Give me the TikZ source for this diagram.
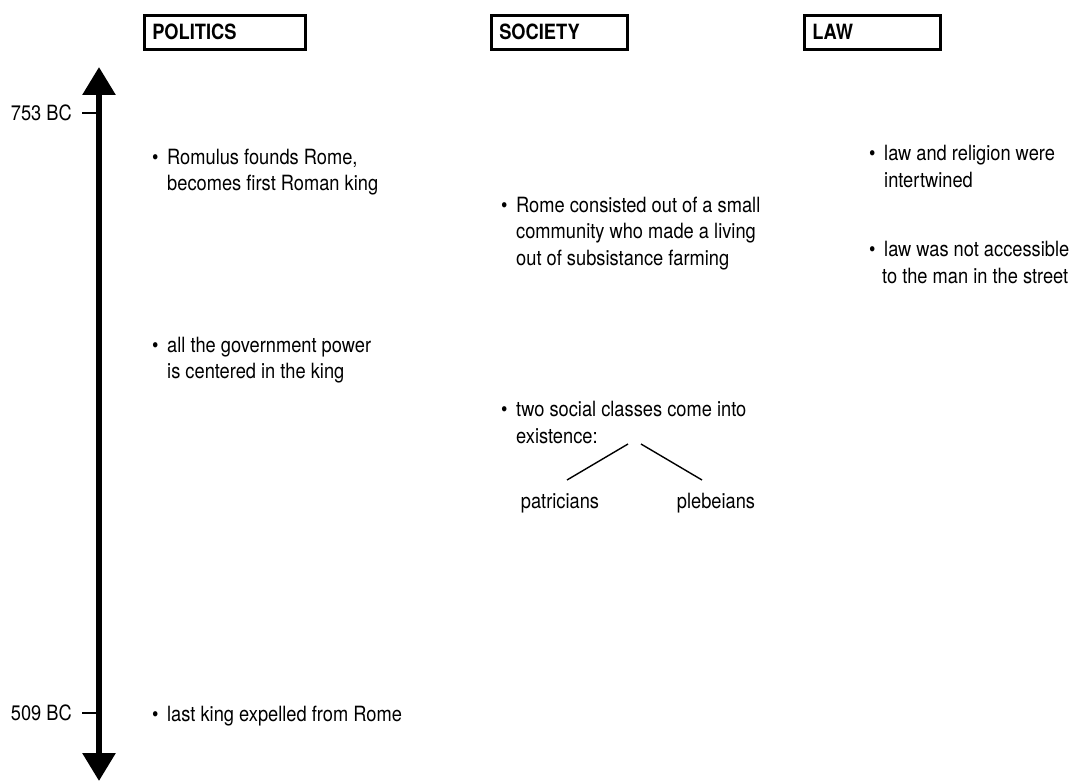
\documentclass[tikz,border=0pt]{standalone}
\usepackage{fontspec}
\setmainfont[FakeStretch=0.87]{TeX Gyre Heros}
\usetikzlibrary{arrows.meta}
\begin{document}
\begin{tikzpicture}[x=1pt,y=-1pt,
  every node/.style={inner sep=0pt, font=\fontsize{21}{26.5}\selectfont},
  header/.style={draw, line width=2.6pt, anchor=north west, align=left,
    minimum height=34pt, inner xsep=8pt, font=\fontsize{21}{26.5}\selectfont\bfseries},
  % multi-line items are placed by the baseline of their last line
  item/.style={anchor=base west, align=left},
  datelabel/.style={anchor=east},
  tick/.style={line width=2pt},
  timeline/.style={line width=6pt,
    {Triangle[width=32pt,length=28pt]}-{Triangle[width=32pt,length=28pt]}},
  fork/.style={line width=1.4pt}
]
\useasboundingbox (0,0) rectangle (1084,781);

% column headers
\node[header, text width=145pt] (politics) at (143,14) {POLITICS};
\node[header, text width=120pt] (society)  at (490,14) {SOCIETY};
\node[header, text width=120pt] (law)      at (803,14) {LAW};

% time axis
\coordinate (axtop) at (99,67);
\coordinate (axbot) at (99,781);
\draw[timeline] (axbot) -- (axtop);

\node[datelabel] (d753) at (72,113) {753 BC};
\coordinate (a753) at (99,113);
\draw[tick] ([xshift=10pt]d753.east) -- (a753);

\node[datelabel] (d509) at (72,713) {509 BC};
\coordinate (a509) at (99,713);
\draw[tick] ([xshift=10pt]d509.east) -- (a509);

% politics
\node[item] (p1) at (167,190.5) {\llap{\textbullet\ \,}Romulus founds Rome,\\becomes first Roman king};
\node[item] (p2) at (167,378.5) {\llap{\textbullet\ \,}all the government power\\is centered in the king};
\node[item] (p3) at (167,721) {\llap{\textbullet\ \,}last king expelled from Rome};

% society
\node[item] (s1) at (516,265) {\llap{\textbullet\ \,}Rome consisted out of a small\\community who made a living\\out of subsistance farming};
\node[item] (s2) at (516,443) {\llap{\textbullet\ \,}two social classes come into\\existence:};
\node[anchor=base] (patr) at (560,508) {patricians};
\node[anchor=base] (pleb) at (716,508) {plebeians};
\coordinate (forkL) at (628,444);
\coordinate (forkR) at (641,444);
\draw[fork] (forkL) -- ([xshift=7pt,yshift=28pt]patr.base);
\draw[fork] (forkR) -- ([xshift=-14pt,yshift=28pt]pleb.base);

% law
\node[item] (l1) at (884,187) {\llap{\textbullet\ \,}law and religion were\\intertwined};
\node[item] (l2) at (884,283) {\llap{\textbullet\ \,}law was not accessible\\\hspace*{-2pt}to the man in the street};
\end{tikzpicture}
\end{document}
